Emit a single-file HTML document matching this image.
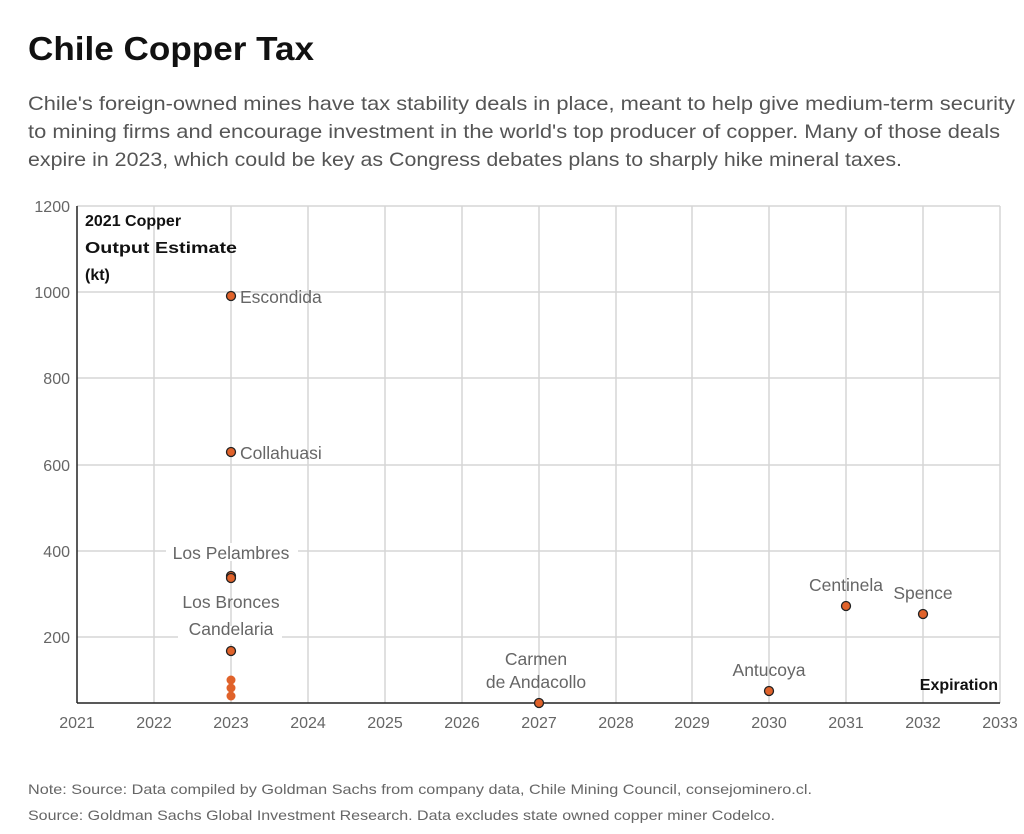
<!DOCTYPE html>
<html><head><meta charset="utf-8"><style>
body{margin:0;background:#fff;width:1024px;height:829px;overflow:hidden;font-family:"Liberation Sans",sans-serif}
</style></head><body>
<svg width="1024" height="829" xmlns="http://www.w3.org/2000/svg" font-family="Liberation Sans, sans-serif">
<text x="28" y="60" font-size="33" font-weight="bold" fill="#111" textLength="286" lengthAdjust="spacingAndGlyphs">Chile Copper Tax</text>
<g font-size="19.5" fill="#555">
<text x="28" y="110" textLength="987" lengthAdjust="spacingAndGlyphs">Chile's foreign-owned mines have tax stability deals in place, meant to help give medium-term security</text>
<text x="28" y="138" textLength="972" lengthAdjust="spacingAndGlyphs">to mining firms and encourage investment in the world's top producer of copper. Many of those deals</text>
<text x="28" y="166" textLength="874" lengthAdjust="spacingAndGlyphs">expire in 2023, which could be key as Congress debates plans to sharply hike mineral taxes.</text>
</g>
<g stroke="#d6d6d6" stroke-width="1.5">
<line x1="77" y1="206" x2="1000" y2="206"/><line x1="77" y1="292" x2="1000" y2="292"/><line x1="77" y1="378" x2="1000" y2="378"/><line x1="77" y1="465" x2="1000" y2="465"/><line x1="77" y1="551" x2="1000" y2="551"/><line x1="77" y1="637" x2="1000" y2="637"/>
<line x1="154" y1="206" x2="154" y2="703"/><line x1="231" y1="206" x2="231" y2="703"/><line x1="308" y1="206" x2="308" y2="703"/><line x1="385" y1="206" x2="385" y2="703"/><line x1="462" y1="206" x2="462" y2="703"/><line x1="539" y1="206" x2="539" y2="703"/><line x1="616" y1="206" x2="616" y2="703"/><line x1="692" y1="206" x2="692" y2="703"/><line x1="769" y1="206" x2="769" y2="703"/><line x1="846" y1="206" x2="846" y2="703"/><line x1="923" y1="206" x2="923" y2="703"/><line x1="1000" y1="206" x2="1000" y2="703"/>
</g>
<line x1="77" y1="206" x2="77" y2="703" stroke="#222" stroke-width="1.5"/>
<line x1="77" y1="703" x2="1000" y2="703" stroke="#222" stroke-width="1.5"/>
<g font-size="16" fill="#666" text-anchor="end">
<text x="70" y="212">1200</text><text x="70" y="298">1000</text><text x="70" y="384">800</text><text x="70" y="471">600</text><text x="70" y="557">400</text><text x="70" y="643">200</text>
</g>
<g font-size="16" fill="#666" text-anchor="middle">
<text x="77" y="728">2021</text><text x="154" y="728">2022</text><text x="231" y="728">2023</text><text x="308" y="728">2024</text><text x="385" y="728">2025</text><text x="462" y="728">2026</text><text x="539" y="728">2027</text><text x="616" y="728">2028</text><text x="692" y="728">2029</text><text x="769" y="728">2030</text><text x="846" y="728">2031</text><text x="923" y="728">2032</text><text x="1000" y="728">2033</text>
</g>
<g font-size="16" font-weight="bold" fill="#111">
<text x="85" y="226">2021 Copper</text><text x="85" y="253" textLength="152" lengthAdjust="spacingAndGlyphs">Output Estimate</text><text x="85" y="280">(kt)</text>
<text x="998" y="690" text-anchor="end">Expiration</text>
</g>
<g font-size="17.5" fill="#666">
<text x="240" y="303">Escondida</text>
<text x="240" y="459">Collahuasi</text>
<rect x="166" y="543" width="132" height="18" fill="#fff"/>
<text x="231" y="559" text-anchor="middle">Los Pelambres</text>
<rect x="178" y="626" width="104" height="18" fill="#fff"/>
<text x="231" y="608" text-anchor="middle">Los Bronces</text>
<text x="231" y="635" text-anchor="middle">Candelaria</text>
<text x="536" y="665" text-anchor="middle">Carmen</text>
<text x="536" y="688" text-anchor="middle">de Andacollo</text>
<text x="769" y="676" text-anchor="middle">Antucoya</text>
<text x="846" y="591" text-anchor="middle">Centinela</text>
<text x="923" y="599" text-anchor="middle">Spence</text>
</g>
<g fill="#e0622a">
<circle cx="231" cy="680" r="4.5"/><circle cx="231" cy="688" r="4.5"/><circle cx="231" cy="696" r="4.5"/>
</g>
<g fill="#e0622a" stroke="#222" stroke-width="1.3">
<circle cx="231" cy="296" r="4.5"/><circle cx="231" cy="452" r="4.5"/><circle cx="231" cy="576" r="4.5"/><circle cx="231" cy="578" r="4.5"/><circle cx="231" cy="651" r="4.5"/>
<circle cx="539" cy="703" r="4.5"/><circle cx="769" cy="691" r="4.5"/><circle cx="846" cy="606" r="4.5"/><circle cx="923" cy="614" r="4.5"/>
</g>
<g font-size="14" fill="#666">
<text x="28" y="794" textLength="784" lengthAdjust="spacingAndGlyphs">Note: Source: Data compiled by Goldman Sachs from company data, Chile Mining Council, consejominero.cl.</text>
<text x="28" y="820" textLength="747" lengthAdjust="spacingAndGlyphs">Source: Goldman Sachs Global Investment Research. Data excludes state owned copper miner Codelco.</text>
</g>
</svg>
</body></html>
